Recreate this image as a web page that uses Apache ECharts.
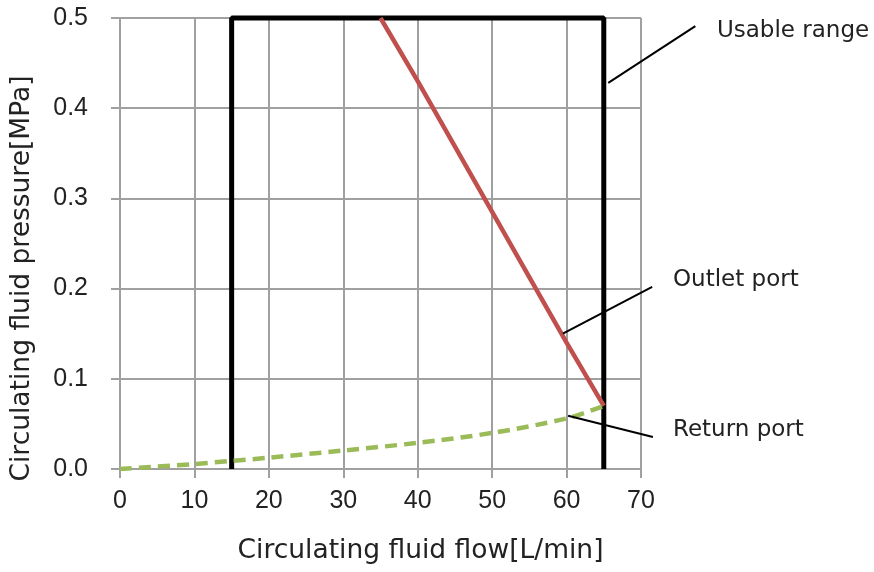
<!DOCTYPE html>
<html><head><meta charset="utf-8">
<script src="https://cdn.jsdelivr.net/npm/echarts@6/dist/echarts.min.js"></script>
<style>html,body{margin:0;padding:0;background:#fff}#c{width:874px;height:572px}</style>
</head><body><div id="c"></div>
<script>
const xTicks = [0, 10, 20, 30, 40, 50, 60, 70];
const yTicks = [0.0, 0.1, 0.2, 0.3, 0.4, 0.5];
const usableFlow = [15, 15, 65, 65];
const usablePressure = [0, 0.5, 0.5, 0];
const outletFlow = [35, 40, 50, 60, 65];
const outletPressure = [0.5, 0.43, 0.285, 0.14, 0.07];
const returnFlow = [0, 10, 15, 20, 30, 40, 50, 60, 65];
const returnPressure = [0, 0.0055, 0.009, 0.0125, 0.0205, 0.029, 0.04, 0.056, 0.07];
const noteNames = ['Usable range', 'Outlet port', 'Return port'];
const noteFrom = [[65.6, 0.428], [59.5, 0.150], [60.2, 0.059]];
const noteTo = [[77.3, 0.491], [71.5, 0.202], [71.6, 0.0355]];
const noteText = [[80.2, 0.486], [74.3, 0.210], [74.3, 0.043]];

const zip = (a, b) => a.map((v, i) => [v, b[i]]);
const chart = echarts.init(document.getElementById('c'));
const gridColor = '#a0a0a0';
const titleFont = '"DejaVu Sans", sans-serif';
const tickFont = '"Liberation Sans", Arial, sans-serif';
chart.setOption({
  animation: false,
  grid: { left: 120, right: 233, top: 18, bottom: 103 },
  xAxis: {
    type: 'value', min: 0, max: 70, interval: 10,
    name: 'Circulating fluid flow[L/min]', nameLocation: 'middle', nameGap: 69,
    nameTextStyle: { fontFamily: titleFont, fontSize: 26.5, color: '#222', padding: [0, 0, 0, 80] },
    axisLine: { show: true, lineStyle: { color: gridColor, width: 2 } },
    axisTick: { show: true, length: 9, lineStyle: { color: gridColor, width: 2 } },
    axisLabel: { margin: 20, fontFamily: tickFont, fontSize: 25, color: '#222',
      formatter: v => xTicks.includes(v) ? String(v) : '' },
    splitLine: { show: true, lineStyle: { color: gridColor, width: 2 } }
  },
  yAxis: {
    type: 'value', min: 0, max: 0.5, interval: 0.1,
    name: 'Circulating fluid pressure[MPa]', nameLocation: 'middle', nameGap: 84,
    nameTextStyle: { fontFamily: titleFont, fontSize: 26.5, color: '#222', padding: [0, 70, 0, 0] },
    axisLine: { show: true, lineStyle: { color: gridColor, width: 2 } },
    axisTick: { show: true, length: 9, lineStyle: { color: gridColor, width: 2 } },
    axisLabel: { margin: 32, fontFamily: tickFont, fontSize: 25, color: '#222',
      formatter: v => { const t = yTicks.find(y => Math.abs(y - v) < 1e-9); return t === undefined ? '' : t.toFixed(1); } },
    splitLine: { show: true, lineStyle: { color: gridColor, width: 2 } }
  },
  series: [
    { type: 'line', name: 'Usable range', data: zip(usableFlow, usablePressure), showSymbol: false,
      lineStyle: { color: '#000', width: 5 }, z: 3, clip: false },
    { type: 'line', name: 'Outlet port', data: zip(outletFlow, outletPressure), showSymbol: false,
      lineStyle: { color: '#c0504d', width: 4.5 }, z: 4 },
    { type: 'line', name: 'Return port', data: zip(returnFlow, returnPressure), showSymbol: false, smooth: 0.3,
      lineStyle: { color: '#9bbb59', width: 4.5, type: [12, 7] }, z: 4 }
  ]
});

const graphics = [];
noteNames.forEach((n, i) => {
  const p1 = chart.convertToPixel({ gridIndex: 0 }, noteFrom[i]);
  const p2 = chart.convertToPixel({ gridIndex: 0 }, noteTo[i]);
  const pt = chart.convertToPixel({ gridIndex: 0 }, noteText[i]);
  graphics.push({ type: 'line', shape: { x1: p1[0], y1: p1[1], x2: p2[0], y2: p2[1] },
    style: { stroke: '#000', lineWidth: 2 }, z: 10 });
  graphics.push({ type: 'text', x: pt[0], y: pt[1],
    style: { text: n, fill: '#222', font: '23px ' + titleFont, textVerticalAlign: 'middle', textAlign: 'left' }, z: 10 });
});
chart.setOption({ graphic: graphics });
</script></body></html>
